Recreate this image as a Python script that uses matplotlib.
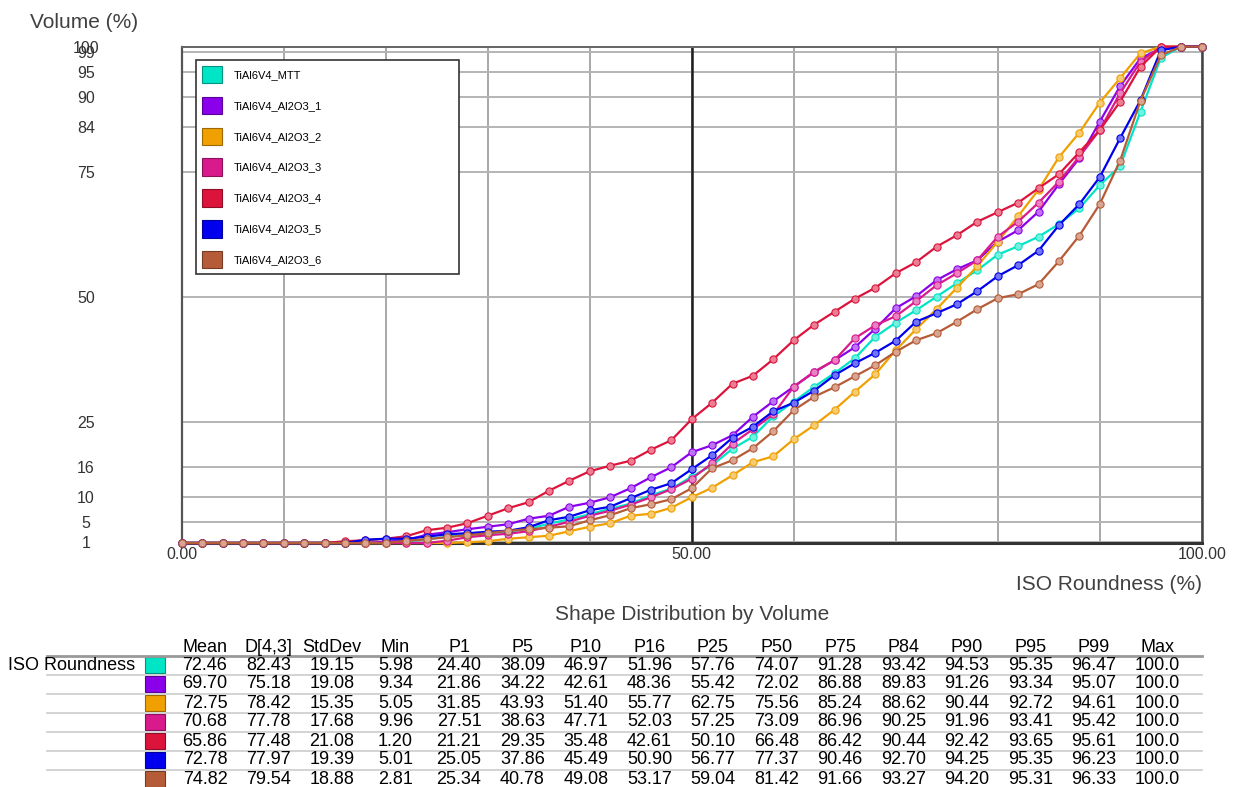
#!/usr/bin/env python3

import matplotlib.pyplot as plt
import numpy as np
from matplotlib.colors import to_rgb
from matplotlib.lines import Line2D
from matplotlib.patches import Patch

plt.rcParams['font.family'] = ['Liberation Sans', 'DejaVu Sans']

# ISO roundness bins (%), one point every 2 %
roundness = np.arange(0, 101, 2)

names = ['TiAl6V4_MTT', 'TiAl6V4_Al2O3_1', 'TiAl6V4_Al2O3_2', 'TiAl6V4_Al2O3_3',
         'TiAl6V4_Al2O3_4', 'TiAl6V4_Al2O3_5', 'TiAl6V4_Al2O3_6']
colors = ['#00e5c5', '#8a00ea', '#f0a000', '#d81a8c', '#dc143c', '#0000ee', '#b65b37']

# cumulative volume (%)
vol_mtt = [0, 0, 0, 0, 0, 0, 0, 0, 0,
           0.3, 0.6, 1.0, 1.5, 2.0, 2.4, 2.7, 3.0, 3.6, 4.6,
           5.5, 6.5, 7.6, 8.6, 10.3, 11.6, 14.0, 16.3, 19.6, 22.0,
           26.1, 29.0, 32.0, 34.7, 37.7, 42.0, 44.8, 47.3, 50.0, 52.7,
           55.3, 58.4, 60.1, 62.0, 64.5, 67.7, 72.3, 76.1, 87.0, 97.8,
           100, 100]
vol_1 = [0, 0, 0, 0, 0, 0, 0, 0,
         0.2, 0.6, 1.0, 1.3, 2.4, 2.9, 3.5, 4.0, 4.5, 5.6, 6.2,
         8.0, 8.8, 9.9, 11.7, 13.9, 15.9, 18.9, 20.3, 22.3, 26.0,
         29.1, 32.0, 34.9, 37.3, 39.9, 43.6, 47.7, 50.1, 53.3, 55.5,
         57.3, 61.0, 63.3, 67.0, 72.5, 77.7, 85.0, 92.1, 97.7, 99.6,
         100, 100]
vol_2 = [0, 0, 0, 0, 0, 0, 0, 0, 0, 0, 0, 0, 0,
         0.3, 0.9, 1.1, 1.6, 1.9, 2.2, 3.1, 4.0, 4.7, 6.2,
         6.6, 7.8, 9.9, 11.8, 14.3, 16.9, 18.1, 21.5, 24.3, 27.4,
         31.0, 34.5, 39.3, 43.5, 47.5, 51.8, 56.1, 61.0, 66.1, 71.4,
         77.9, 82.8, 88.8, 93.7, 98.7, 100, 100, 100]
vol_3 = [0, 0, 0, 0, 0, 0, 0, 0, 0, 0,
         0.2, 0.4, 0.7, 1.2, 1.9, 2.3, 2.6, 3.1, 4.0, 5.0,
         6.2, 7.2, 8.4, 9.9, 11.5, 13.6, 16.7, 20.6, 23.5, 26.5,
         32.0, 35.0, 37.3, 41.7, 44.3, 46.1, 49.1, 52.3, 54.7, 57.3,
         62.0, 65.0, 68.8, 73.0, 78.0, 83.3, 90.7, 97.0, 100, 100,
         100]
vol_4 = [0, 0, 0, 0, 0, 0, 0, 0,
         1.1, 1.3, 1.6, 2.1, 3.3, 3.8, 4.7, 6.2, 7.7, 8.9, 11.2,
         13.2, 15.1, 16.2, 17.2, 19.4, 21.3, 25.5, 28.8, 32.6, 34.2,
         37.5, 41.3, 44.4, 47.0, 49.6, 51.8, 54.7, 56.9, 60.0, 62.3,
         65.0, 66.9, 68.8, 71.7, 74.5, 78.9, 83.3, 89.0, 96.0, 100,
         100, 100]
vol_5 = [0, 0, 0, 0, 0, 0, 0, 0,
         0.5, 1.4, 1.6, 1.6, 2.0, 2.5, 2.7, 3.0, 3.2, 3.9, 5.3,
         6.0, 7.3, 8.0, 9.7, 11.4, 12.7, 15.5, 18.3, 21.8, 24.0,
         27.1, 28.8, 31.2, 34.3, 36.7, 38.8, 41.2, 45.0, 46.7, 48.5,
         51.1, 54.1, 56.3, 59.2, 64.3, 68.5, 73.9, 81.7, 89.3, 99.3,
         100, 100]
vol_6 = [0, 0, 0, 0, 0, 0, 0, 0,
         0, 0.2, 0.5, 1.2, 1.5, 1.9, 2.3, 2.7, 3.2, 3.5, 3.8,
         4.1, 5.3, 6.3, 7.7, 8.5, 9.5, 11.7, 15.7, 17.3, 19.7,
         23.1, 27.3, 30.0, 31.9, 34.1, 36.3, 39.0, 41.3, 42.7, 45.0,
         47.5, 49.7, 50.5, 52.5, 57.1, 62.2, 68.5, 77.2, 89.2, 98.3,
         100, 100]
volumes = [vol_mtt, vol_1, vol_2, vol_3, vol_4, vol_5, vol_6]

yticks = [1, 5, 10, 16, 25, 50, 75, 84, 90, 95, 99, 100]

# statistics table
stat_cols = ['Mean', 'D[4,3]', 'StdDev', 'Min', 'P1', 'P5', 'P10', 'P16',
             'P25', 'P50', 'P75', 'P84', 'P90', 'P95', 'P99', 'Max']
stat_rows = [
    [72.46, 82.43, 19.15, 5.98, 24.40, 38.09, 46.97, 51.96, 57.76, 74.07, 91.28, 93.42, 94.53, 95.35, 96.47, 100.0],
    [69.70, 75.18, 19.08, 9.34, 21.86, 34.22, 42.61, 48.36, 55.42, 72.02, 86.88, 89.83, 91.26, 93.34, 95.07, 100.0],
    [72.75, 78.42, 15.35, 5.05, 31.85, 43.93, 51.40, 55.77, 62.75, 75.56, 85.24, 88.62, 90.44, 92.72, 94.61, 100.0],
    [70.68, 77.78, 17.68, 9.96, 27.51, 38.63, 47.71, 52.03, 57.25, 73.09, 86.96, 90.25, 91.96, 93.41, 95.42, 100.0],
    [65.86, 77.48, 21.08, 1.20, 21.21, 29.35, 35.48, 42.61, 50.10, 66.48, 86.42, 90.44, 92.42, 93.65, 95.61, 100.0],
    [72.78, 77.97, 19.39, 5.01, 25.05, 37.86, 45.49, 50.90, 56.77, 77.37, 90.46, 92.70, 94.25, 95.35, 96.23, 100.0],
    [74.82, 79.54, 18.88, 2.81, 25.34, 40.78, 49.08, 53.17, 59.04, 81.42, 91.66, 93.27, 94.20, 95.31, 96.33, 100.0],
]

W, H = 1240, 787


def fx(px):
    return px / W


def fy(py):
    return 1 - py / H


def light(c, k=0.45):
    r = np.array(to_rgb(c))
    return tuple(r + (1 - r) * k)


def dark(c, k=0.35):
    return tuple(np.array(to_rgb(c)) * (1 - k))


fig = plt.figure(figsize=(W / 100, H / 100), dpi=100)
ax = fig.add_axes([fx(181.7), fy(543), (1201.7 - 181.7) / W, (543 - 46.7) / H])

y_min = 0.75
for name, c, vol in zip(names, colors, volumes):
    # zero volume is pinned onto the bottom axis, as in the instrument plot
    v = np.maximum(np.asarray(vol, dtype=float), y_min)
    ax.plot(roundness, v, color=c, lw=1.6, marker='o', ms=5.2,
            mfc=light(c), mec=c, mew=0.8, clip_on=False, zorder=3)

ax.set_xlim(0, 100)
ax.set_ylim(y_min, 100)
ax.set_xticks([0, 50, 100], ['0.00', '50.00', '100.00'])
ax.set_xticks(np.arange(10, 100, 10), minor=True)
ax.set_yticks(yticks, [str(t) for t in yticks])
ax.tick_params(which='both', length=0, labelsize=11.5, labelcolor='#333333')
ax.tick_params(axis='x', pad=3)
ax.tick_params(axis='y', pad=69)
for lab in ax.get_yticklabels():
    lab.set_horizontalalignment('center')

ax.set_axisbelow(True)
ax.grid(True, which='both', axis='x', color='#a8a8a8', lw=1.4)
ax.grid(True, axis='y', color='#b4b4b4', lw=1.4)
ax.axvline(50, color='#1e1e1e', lw=1.8, zorder=1)

for side, col, lw in [('left', '#555555', 1.6), ('bottom', '#333333', 2.2),
                      ('right', '#444444', 1.8), ('top', '#666666', 1.4)]:
    ax.spines[side].set_color(col)
    ax.spines[side].set_linewidth(lw)

handles = [Patch(facecolor=c, edgecolor=dark(c), lw=0.8, label=n)
           for n, c in zip(names, colors)]
leg = ax.legend(handles=handles, loc='upper left',
                bbox_to_anchor=(0.014, 0.4735, 0.258, 0.4995), mode='expand',
                borderaxespad=0, fontsize=8, handlelength=1.8, handleheight=2.0,
                handletextpad=1.1, labelspacing=1.24, borderpad=0.5,
                fancybox=False, framealpha=1)
leg.get_frame().set_edgecolor('#333333')
leg.get_frame().set_linewidth(1.2)

fig.text(fx(30), fy(22), 'Volume (%)', fontsize=15, color='#404040',
         ha='left', va='center')
fig.text(fx(1201.7), fy(585), 'ISO Roundness (%)', fontsize=15, color='#404040',
         ha='right', va='center')
fig.text(fx(691.7), fy(614), 'Shape Distribution by Volume', fontsize=15,
         color='#404040', ha='center', va='center')

# table below the chart
col_x = [205 + 63.5 * i for i in range(len(stat_cols))]
head_y = 648
row_y = [665 + 19.0 * i for i in range(len(stat_rows))]

for x, name in zip(col_x, stat_cols):
    fig.text(fx(x), fy(head_y), name, fontsize=13, ha='center', va='center')
fig.text(fx(8), fy(row_y[0]), 'ISO Roundness', fontsize=13, ha='left', va='center')

for y, row, c in zip(row_y, stat_rows, colors):
    fig.add_artist(plt.Rectangle((fx(145), fy(y + 8)), 20 / W, 16 / H,
                                 transform=fig.transFigure, facecolor=c,
                                 edgecolor=dark(c), lw=0.8))
    for j, (x, val) in enumerate(zip(col_x, row)):
        txt = f'{val:.1f}' if stat_cols[j] == 'Max' else f'{val:.2f}'
        fig.text(fx(x), fy(y), txt, fontsize=13, ha='center', va='center')

fig.add_artist(Line2D([fx(47), fx(1202)], [fy(656), fy(656)],
                      transform=fig.transFigure, color='#999999', lw=2))
for y in row_y[:-1]:
    fig.add_artist(Line2D([fx(47), fx(1202)], [fy(y + 9.7), fy(y + 9.7)],
                          transform=fig.transFigure, color='#cccccc', lw=1.2))

fig.savefig('out.png', dpi=100)
